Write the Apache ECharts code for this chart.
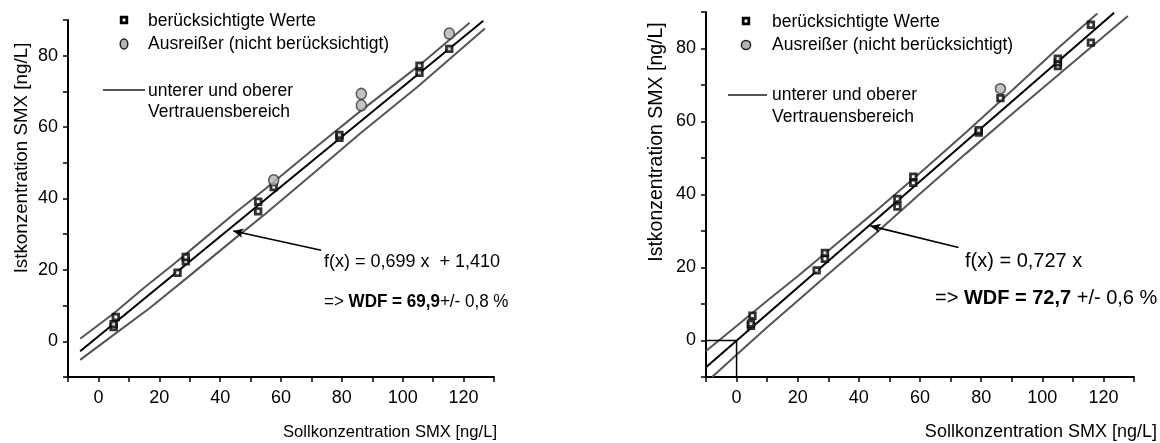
<!DOCTYPE html>
<html>
<head>
<meta charset="utf-8">
<script src="https://cdn.jsdelivr.net/npm/echarts@6/dist/echarts.min.js"></script>
<style>
  html, body { margin: 0; padding: 0; background: #fff; }
  #chart { width: 1160px; height: 443px; }
</style>
</head>
<body>
<div id="chart"></div>
<script>
// Wiederfindung SMX: Sollkonzentration (x) gegen Istkonzentration (y), ng/L

// Achsenbeschriftung
const xTickLabels = [0, 20, 40, 60, 80, 100, 120];
const yTickLabels = [0, 20, 40, 60, 80];

// Linkes Diagramm: Regression mit Achsenabschnitt
const leftValidX   = [5.0, 5.0, 5.7, 26.0, 28.7, 28.7, 52.5, 52.5, 57.6, 79.2, 79.2, 105.5, 105.5, 115.3];
const leftValidY   = [4.0, 4.8, 6.8, 19.2, 22.4, 23.6, 36.4, 39.1, 43.2, 57.0, 57.8, 75.2, 77.2, 81.9];
const leftOutX     = [57.6, 86.4, 86.4, 115.3];
const leftOutY     = [45.1, 66.1, 69.3, 86.2];
const leftFitX     = [-6, 126.5];
const leftFitY     = [-2.8, 89.8];
const leftUpperX   = [-6, 5, 15, 25, 35, 45, 55, 70, 86, 105, 122];
const leftUpperY   = [0.7, 7.8, 15.0, 21.8, 28.9, 36.0, 42.8, 53.4, 64.4, 77.0, 89.2];
const leftLowerX   = [-6, 5, 17, 30, 45, 55, 70, 86, 105, 127];
const leftLowerY   = [-5.2, 1.8, 9.4, 18.4, 28.9, 35.8, 46.6, 58.2, 71.4, 87.6];

// Rechtes Diagramm: Regression durch den Ursprung
const rightValidX  = [4.7, 4.7, 5.2, 26.2, 28.9, 28.9, 52.6, 52.6, 57.8, 57.8, 79.2, 79.2, 86.3, 105.1, 105.1, 105.1, 115.9, 115.9];
const rightValidY  = [4.0, 4.6, 6.8, 19.2, 22.4, 24.0, 36.7, 38.8, 43.2, 44.9, 57.0, 57.6, 66.4, 75.2, 76.2, 77.2, 81.6, 86.5];
const rightOutX    = [86.3];
const rightOutY    = [69.0];
const rightFitX    = [-10, 123.5];
const rightFitY    = [-7.3, 89.8];
const rightUpperX  = [-10, 0, 10, 20, 30, 45, 60, 75, 90, 105, 118];
const rightUpperY  = [-2.9, 4.0, 10.9, 17.6, 24.6, 35.1, 45.9, 57.0, 68.4, 80.0, 89.6];
const rightLowerX  = [-8, 0, 10, 20, 30, 45, 60, 75, 90, 105, 128];
const rightLowerY  = [-10, -3.9, 3.6, 10.9, 18.2, 29.0, 40.2, 51.2, 62.0, 72.6, 88.9];
const rightBoxX    = [-10, 0, 0];
const rightBoxY    = [0, 0, -10];

const FONT = '"Liberation Sans", Arial, sans-serif';
const zip = (xs, ys) => xs.map((x, i) => [x, ys[i]]);

function xAxis(gridIndex, fontSize) {
  return {
    type: 'value', gridIndex, min: -10, max: 130, interval: 10,
    axisLine: { show: true, onZero: false, lineStyle: { color: '#000', width: 2 } },
    axisTick: { show: true, inside: false, length: 5, lineStyle: { color: '#000', width: 1.5 } },
    axisLabel: {
      margin: 12, color: '#000', fontFamily: FONT, fontSize,
      showMinLabel: true, showMaxLabel: true,
      formatter: v => (xTickLabels.includes(v) ? String(v) : '')
    },
    splitLine: { show: false }
  };
}
function yAxis(gridIndex, fontSize) {
  return {
    type: 'value', gridIndex, min: -10, max: 90, interval: 10,
    axisLine: { show: true, onZero: false, lineStyle: { color: '#000', width: 2 } },
    axisTick: { show: true, inside: false, length: 5, lineStyle: { color: '#000', width: 1.5 } },
    axisLabel: {
      margin: 10, color: '#000', fontFamily: FONT, fontSize,
      formatter: v => (yTickLabels.includes(v) ? String(v) : '')
    },
    splitLine: { show: false }
  };
}

function lineSeries(idx, xs, ys, color, width, z) {
  return {
    type: 'line', xAxisIndex: idx, yAxisIndex: idx, data: zip(xs, ys),
    symbol: 'none', smooth: false, clip: true, silent: true, z,
    lineStyle: { color, width }
  };
}
function arrow(from, to) {
  return {
    silent: true, symbol: ['none', 'arrow'], symbolSize: [7, 10],
    label: { show: false },
    lineStyle: { color: '#000', width: 1.6, type: 'solid' },
    data: [[{ coord: from }, { coord: to }]]
  };
}

const leftFit = lineSeries(0, leftFitX, leftFitY, '#000', 2, 3);
leftFit.markLine = arrow([73.2, 25.5], [44.3, 30.9]);
const rightFit = lineSeries(1, rightFitX, rightFitY, '#000', 2, 3);
rightFit.markLine = arrow([72.6, 25.5], [43.8, 31.4]);

function textEl(x, y, text, size, extra) {
  return {
    type: 'text', x, y, silent: true,
    style: Object.assign({ text, fill: '#000', font: `${size}px ${FONT}`, textVerticalAlign: 'middle' }, extra || {})
  };
}
function rotatedText(x, y, text, size) {
  return {
    type: 'text', x, y, rotation: Math.PI / 2, silent: true,
    style: { text, fill: '#000', font: `${size}px ${FONT}`, textAlign: 'center', textVerticalAlign: 'middle' }
  };
}
function richText(x, y, parts, size, scaleX) {
  return {
    type: 'text', x, y, scaleX: scaleX || 1, silent: true,
    style: {
      text: parts.map(p => `{${p[0]}|${p[1]}}`).join(''),
      textVerticalAlign: 'middle',
      rich: {
        n: { fontSize: size, fontFamily: FONT, fill: '#000' },
        b: { fontSize: size, fontFamily: FONT, fontWeight: 'bold', fill: '#000' }
      }
    }
  };
}
function legendBlock(sx, lx0, lx1, ly, tx, y1, y2, y3, size, lh, ellipse) {
  return [
    { type: 'rect', silent: true, shape: { x: sx - 2.8, y: y1 - 2.8, width: 5.6, height: 5.6 },
      style: { fill: '#fff', stroke: '#000', lineWidth: 2.8 } },
    ellipse
      ? { type: 'ellipse', silent: true, shape: { cx: sx, cy: y2, rx: 3.8, ry: 5 },
          style: { fill: '#b4b4b4', stroke: '#222', lineWidth: 1.5 } }
      : { type: 'circle', silent: true, shape: { cx: sx, cy: y2, r: 4.6 },
          style: { fill: '#b4b4b4', stroke: '#222', lineWidth: 1.5 } },
    { type: 'line', silent: true, shape: { x1: lx0, y1: ly, x2: lx1, y2: ly },
      style: { stroke: '#555', lineWidth: 2 } },
    textEl(tx, y1 + 1, 'berücksichtigte Werte', size),
    textEl(tx, y2, 'Ausreißer (nicht berücksichtigt)', size),
    textEl(tx, y3, 'unterer und oberer\nVertrauensbereich', size, { lineHeight: lh })
  ];
}

const validStyle = { color: '#fff', borderColor: '#000', borderWidth: 2.8 };
const outStyle = { color: '#b4b4b4', borderColor: '#333', borderWidth: 1.5 };

const chart = echarts.init(document.getElementById('chart'), null, { renderer: 'canvas' });
chart.setOption({
  backgroundColor: '#fff',
  animation: false,
  grid: [
    { left: 68, top: 20, width: 426, height: 357 },
    { left: 706, top: 12, width: 428, height: 365 }
  ],
  xAxis: [xAxis(0, 18), xAxis(1, 18)],
  yAxis: [yAxis(0, 18), yAxis(1, 18)],
  series: [
    lineSeries(0, leftUpperX, leftUpperY, '#555', 2, 2),
    lineSeries(0, leftLowerX, leftLowerY, '#555', 2, 2),
    leftFit,
    {
      type: 'scatter', xAxisIndex: 0, yAxisIndex: 0, data: zip(leftValidX, leftValidY), z: 5,
      symbol: 'rect', symbolSize: 5.6, silent: true, itemStyle: validStyle
    },
    {
      type: 'scatter', xAxisIndex: 0, yAxisIndex: 0, data: zip(leftOutX, leftOutY), z: 6,
      symbol: 'circle', symbolSize: [10, 11], silent: true, itemStyle: outStyle
    },
    lineSeries(1, rightUpperX, rightUpperY, '#555', 2, 2),
    lineSeries(1, rightLowerX, rightLowerY, '#555', 2, 2),
    rightFit,
    lineSeries(1, rightBoxX, rightBoxY, '#000', 1.5, 2),
    {
      type: 'scatter', xAxisIndex: 1, yAxisIndex: 1, data: zip(rightValidX, rightValidY), z: 5,
      symbol: 'rect', symbolSize: 5.6, silent: true, itemStyle: validStyle
    },
    {
      type: 'scatter', xAxisIndex: 1, yAxisIndex: 1, data: zip(rightOutX, rightOutY), z: 6,
      symbol: 'circle', symbolSize: 10, silent: true, itemStyle: outStyle
    }
  ],
  graphic: [
    // Legenden
    ...legendBlock(124, 103, 145, 90, 148, 20, 44, 102, 17.5, 21, true),
    ...legendBlock(746, 728, 767, 95, 772, 21, 45, 106, 17.5, 22, false),
    // Achsentitel
    textEl(497, 432, 'Sollkonzentration SMX [ng/L]', 16.6, { textAlign: 'right' }),
    textEl(1157, 432, 'Sollkonzentration SMX [ng/L]', 18, { textAlign: 'right' }),
    rotatedText(22, 158, 'Istkonzentration SMX [ng/L]', 18.8),
    rotatedText(657, 142, 'Istkonzentration SMX [ng/L]', 19.5),
    // Regressionsgleichungen
    textEl(324, 262, 'f(x) = 0,699 x  + 1,410', 18),
    richText(324, 302, [['n', '=> '], ['b', 'WDF = 69,9'], ['n', '+/- 0,8 %']], 18.5, 0.92),
    textEl(965, 261, 'f(x) = 0,727 x', 20),
    richText(935, 298, [['n', '=> '], ['b', 'WDF = 72,7'], ['n', ' +/- 0,6 %']], 20)
  ]
});
</script>
</body>
</html>
